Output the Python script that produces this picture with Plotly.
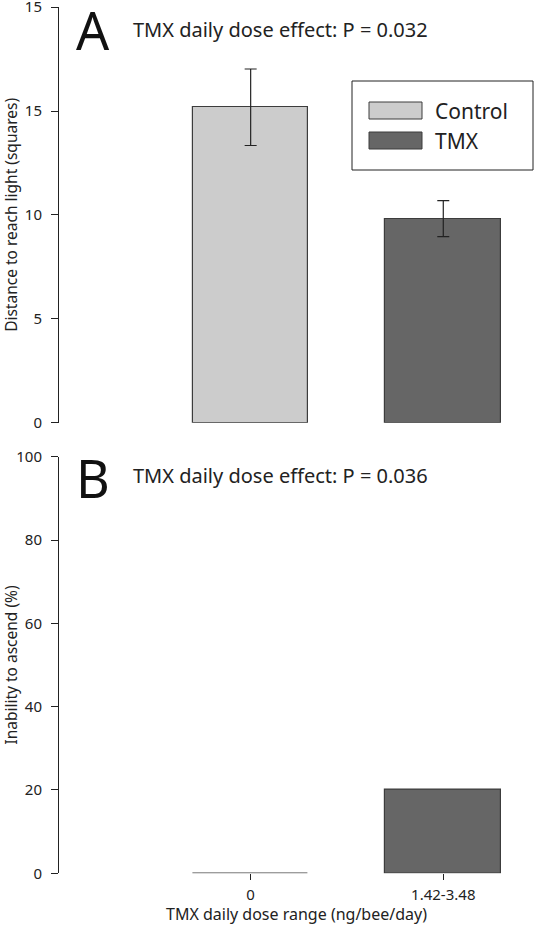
import plotly.graph_objects as go

# ---- data ----
groups = ["Control", "TMX"]
dose_labels = ["0", "1.42-3.48"]
distance_mean = [15.18, 9.82]
distance_err = [1.84, 0.87]
inability_pct = [0.0, 20.0]
p_text_a = "TMX daily dose effect: P = 0.032"
p_text_b = "TMX daily dose effect: P = 0.036"
yticks_a_vals = [0, 5, 10, 15, 20]
yticks_a_text = ["0", "5", "10", "15", "15"]
yticks_b_vals = [0, 20, 40, 60, 80, 100]

colors = ["#cccccc", "#666666"]
edge = "#3c3c3c"
FONT = "Noto Sans"

W, H = 534, 925
ML = 59

def px(x):
    return (x - ML) / (W - ML)

def py(y):
    return (H - y) / H

fig = go.Figure()

fig.add_trace(go.Bar(
    x=[0, 1], y=distance_mean, width=0.6,
    marker=dict(color=colors, line=dict(color=edge, width=1.2)),
    error_y=dict(type="data", array=distance_err, color="#222222", thickness=1.2, width=6),
    xaxis="x", yaxis="y", showlegend=False,
))
fig.add_trace(go.Bar(
    x=[0, 1], y=inability_pct, width=0.6,
    marker=dict(color=colors, line=dict(color=edge, width=1.2)),
    xaxis="x2", yaxis="y2", showlegend=False,
))

xr = [-0.995, 1.471]
fig.update_layout(
    width=W, height=H,
    margin=dict(l=ML, r=0, t=0, b=0),
    plot_bgcolor="white", paper_bgcolor="white",
    font=dict(family=FONT, color="#222222"),
    bargap=0,
    xaxis=dict(domain=[0, 1], range=xr, anchor="y", showticklabels=False, ticks="",
               showgrid=False, zeroline=False, showline=False),
    yaxis=dict(domain=[py(422.7), py(7.1)], range=[0, 20], tickvals=yticks_a_vals, ticktext=yticks_a_text,
               ticks="outside", ticklen=7, tickwidth=1, tickcolor="#222",
               showline=True, linecolor="#222", linewidth=1, showgrid=False, zeroline=False,
               tickfont=dict(size=15), automargin=False, ticklabelstandoff=6, ticklabeloverflow="allow",
               title=dict(text="Distance to reach light (squares)", font=dict(size=15.5), standoff=11)),
    xaxis2=dict(domain=[0, 1], range=xr, anchor="y2", tickvals=[0, 1], ticktext=dose_labels,
                ticks="outside", ticklen=6, tickwidth=1, tickcolor="#222", showline=False,
                showgrid=False, zeroline=False, tickfont=dict(size=15), automargin=False,
                ticklabelstandoff=2,
                title=dict(text="TMX daily dose range (ng/bee/day)", font=dict(size=16), standoff=2)),
    yaxis2=dict(domain=[py(873.3), py(456.7)], range=[0, 100], tickvals=yticks_b_vals,
                ticks="outside", ticklen=7, tickwidth=1, tickcolor="#222",
                showline=True, linecolor="#222", linewidth=1, showgrid=False, zeroline=False,
                tickfont=dict(size=15), automargin=False, ticklabelstandoff=6, ticklabeloverflow="allow",
                title=dict(text="Inability to ascend (%)", font=dict(size=15.5), standoff=4)),
)

ann = []
ann.append(dict(text="A", x=px(74), y=py(29), xref="paper", yref="paper", xanchor="left", yanchor="middle",
                showarrow=False, font=dict(size=52, color="#111")))
ann.append(dict(text="B", x=px(74), y=py(477), xref="paper", yref="paper", xanchor="left", yanchor="middle",
                showarrow=False, font=dict(size=52, color="#111")))
ann.append(dict(text=p_text_a, x=px(131), y=py(29), xref="paper", yref="paper", xanchor="left", yanchor="middle",
                showarrow=False, font=dict(size=20)))
ann.append(dict(text=p_text_b, x=px(131), y=py(475), xref="paper", yref="paper", xanchor="left", yanchor="middle",
                showarrow=False, font=dict(size=20)))

shapes = []
# legend box
shapes.append(dict(type="rect", xref="paper", yref="paper", x0=px(352), x1=px(533), y0=py(170), y1=py(81),
                   line=dict(color="#222", width=1), fillcolor="white"))
for i, (g, c) in enumerate(zip(groups, colors)):
    top = 102 + i * 30
    shapes.append(dict(type="rect", xref="paper", yref="paper", x0=px(369), x1=px(422), y0=py(top + 17), y1=py(top),
                       line=dict(color=edge, width=1), fillcolor=c))
    ann.append(dict(text=g, x=px(433), y=py(top + 8.5), xref="paper", yref="paper", xanchor="left", yanchor="middle",
                    showarrow=False, font=dict(size=21)))

fig.update_layout(annotations=ann, shapes=shapes)
fig.write_html("out.html", config={"displayModeBar": False},
               post_script="document.body.style.margin='0';document.body.style.overflow='hidden';")
